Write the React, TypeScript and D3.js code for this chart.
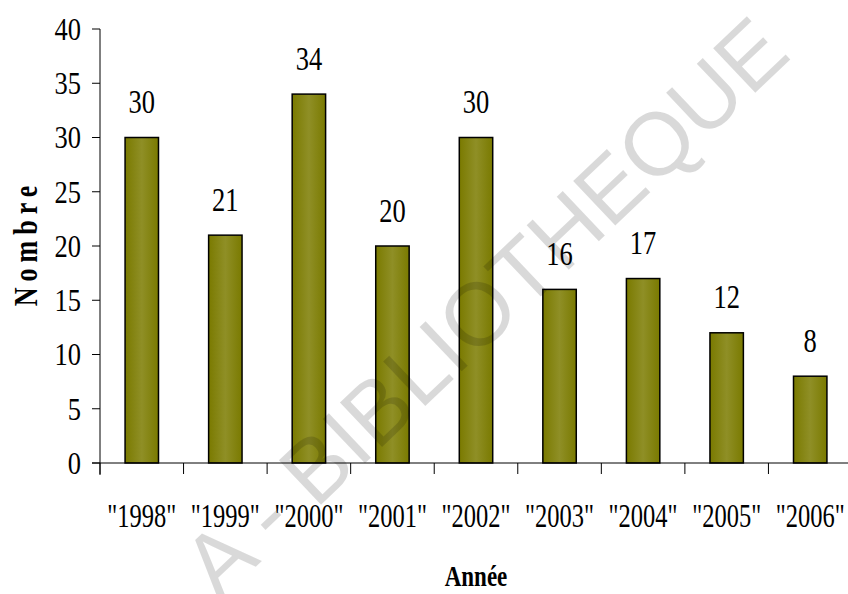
import React from 'react';
import * as d3 from 'd3';

const years = ['"1998"', '"1999"', '"2000"', '"2001"', '"2002"', '"2003"', '"2004"', '"2005"', '"2006"'];
const counts = [30, 21, 34, 20, 30, 16, 17, 12, 8];
const yTicks = [0, 5, 10, 15, 20, 25, 30, 35, 40];

const W = 848;
const H = 594;
const left = 100;
const right = 852; // axis runs a bit past the right edge, like the original
const top = 29;
const bottom = 463;

const serif = '"Liberation Serif", "Times New Roman", serif';

const App = () => {
    const x = d3.scaleBand<string>()
        .domain(years)
        .range([left, right])
        .paddingInner(0.6)
        .paddingOuter(0.3);

    const y = d3.scaleLinear()
        .domain([0, 40])
        .range([bottom, top]);

    const step = x.step();

    return (
        <svg width={W} height={H} style={{ display: 'block', background: '#fff' }}>
            <style>{`body{margin:0}`}</style>
            <defs>
                <linearGradient id="barFill" x1="0" x2="1" y1="0" y2="0">
                    <stop offset="0%" stopColor="#7a7a00" />
                    <stop offset="50%" stopColor="#8f8f26" />
                    <stop offset="100%" stopColor="#7a7a00" />
                </linearGradient>
            </defs>

            {/* bars */}
            {counts.map((v, i) => (
                <rect key={years[i]}
                    x={x(years[i])}
                    y={y(v)}
                    width={x.bandwidth()}
                    height={y(0) - y(v)}
                    fill="url(#barFill)"
                    stroke="#000"
                    strokeWidth={1.5} />
            ))}

            {/* value labels */}
            {counts.map((v, i) => (
                <text key={'v' + i}
                    transform={`translate(${(x(years[i]) as number) + x.bandwidth() / 2}, ${y(v) - 24.5}) scale(1, 1.25)`}
                    textAnchor="middle"
                    fontFamily={serif}
                    fontSize={26.5}
                    fill="#000">{v}</text>
            ))}

            {/* y axis */}
            <line x1={left} x2={left} y1={top} y2={bottom + 12} stroke="#000" strokeWidth={1} />
            {yTicks.map(t => (
                <g key={'y' + t}>
                    <line x1={left - 8} x2={left} y1={y(t)} y2={y(t)} stroke="#000" strokeWidth={1} />
                    <text transform={`translate(${left - 19}, ${y(t) + 10.8}) scale(1, 1.2)`}
                        textAnchor="end"
                        fontFamily={serif}
                        fontSize={26.5}
                        fill="#000">{t}</text>
                </g>
            ))}

            {/* x axis */}
            <line x1={left - 8} x2={right} y1={bottom} y2={bottom} stroke="#000" strokeWidth={1} />
            {d3.range(years.length + 1).map(i => (
                <line key={'xt' + i} x1={left + i * step} x2={left + i * step} y1={bottom} y2={bottom + 11} stroke="#000" strokeWidth={1} />
            ))}
            {years.map(c => (
                <text key={c}
                    transform={`translate(${(x(c) as number) + x.bandwidth() / 2}, 527) scale(1, 1.35)`}
                    textAnchor="middle"
                    fontFamily={serif}
                    fontSize={24.5}
                    fill="#000">{c}</text>
            ))}

            {/* axis titles */}
            <text transform={`translate(${(left + right) / 2}, 586) scale(1, 1.3)`}
                textAnchor="middle"
                fontFamily={serif}
                fontWeight="bold"
                fontSize={23}
                fill="#000">Année</text>
            <text transform="translate(37, 243) rotate(-90) scale(1, 1.3)"
                textAnchor="middle"
                fontFamily={serif}
                fontWeight="bold"
                fontSize={26}
                letterSpacing={6}
                fill="#000">Nombre</text>

            {/* watermark, semi-transparent so it darkens the bars it crosses */}
            <text transform="translate(793, 57) rotate(-43.5)"
                textAnchor="end"
                fontFamily='"Liberation Sans", Arial, sans-serif'
                fontSize={89}
                fill="#000"
                fillOpacity={0.15}>A - BIBLIOTHEQUE</text>
        </svg>
    );
};

export default App;
